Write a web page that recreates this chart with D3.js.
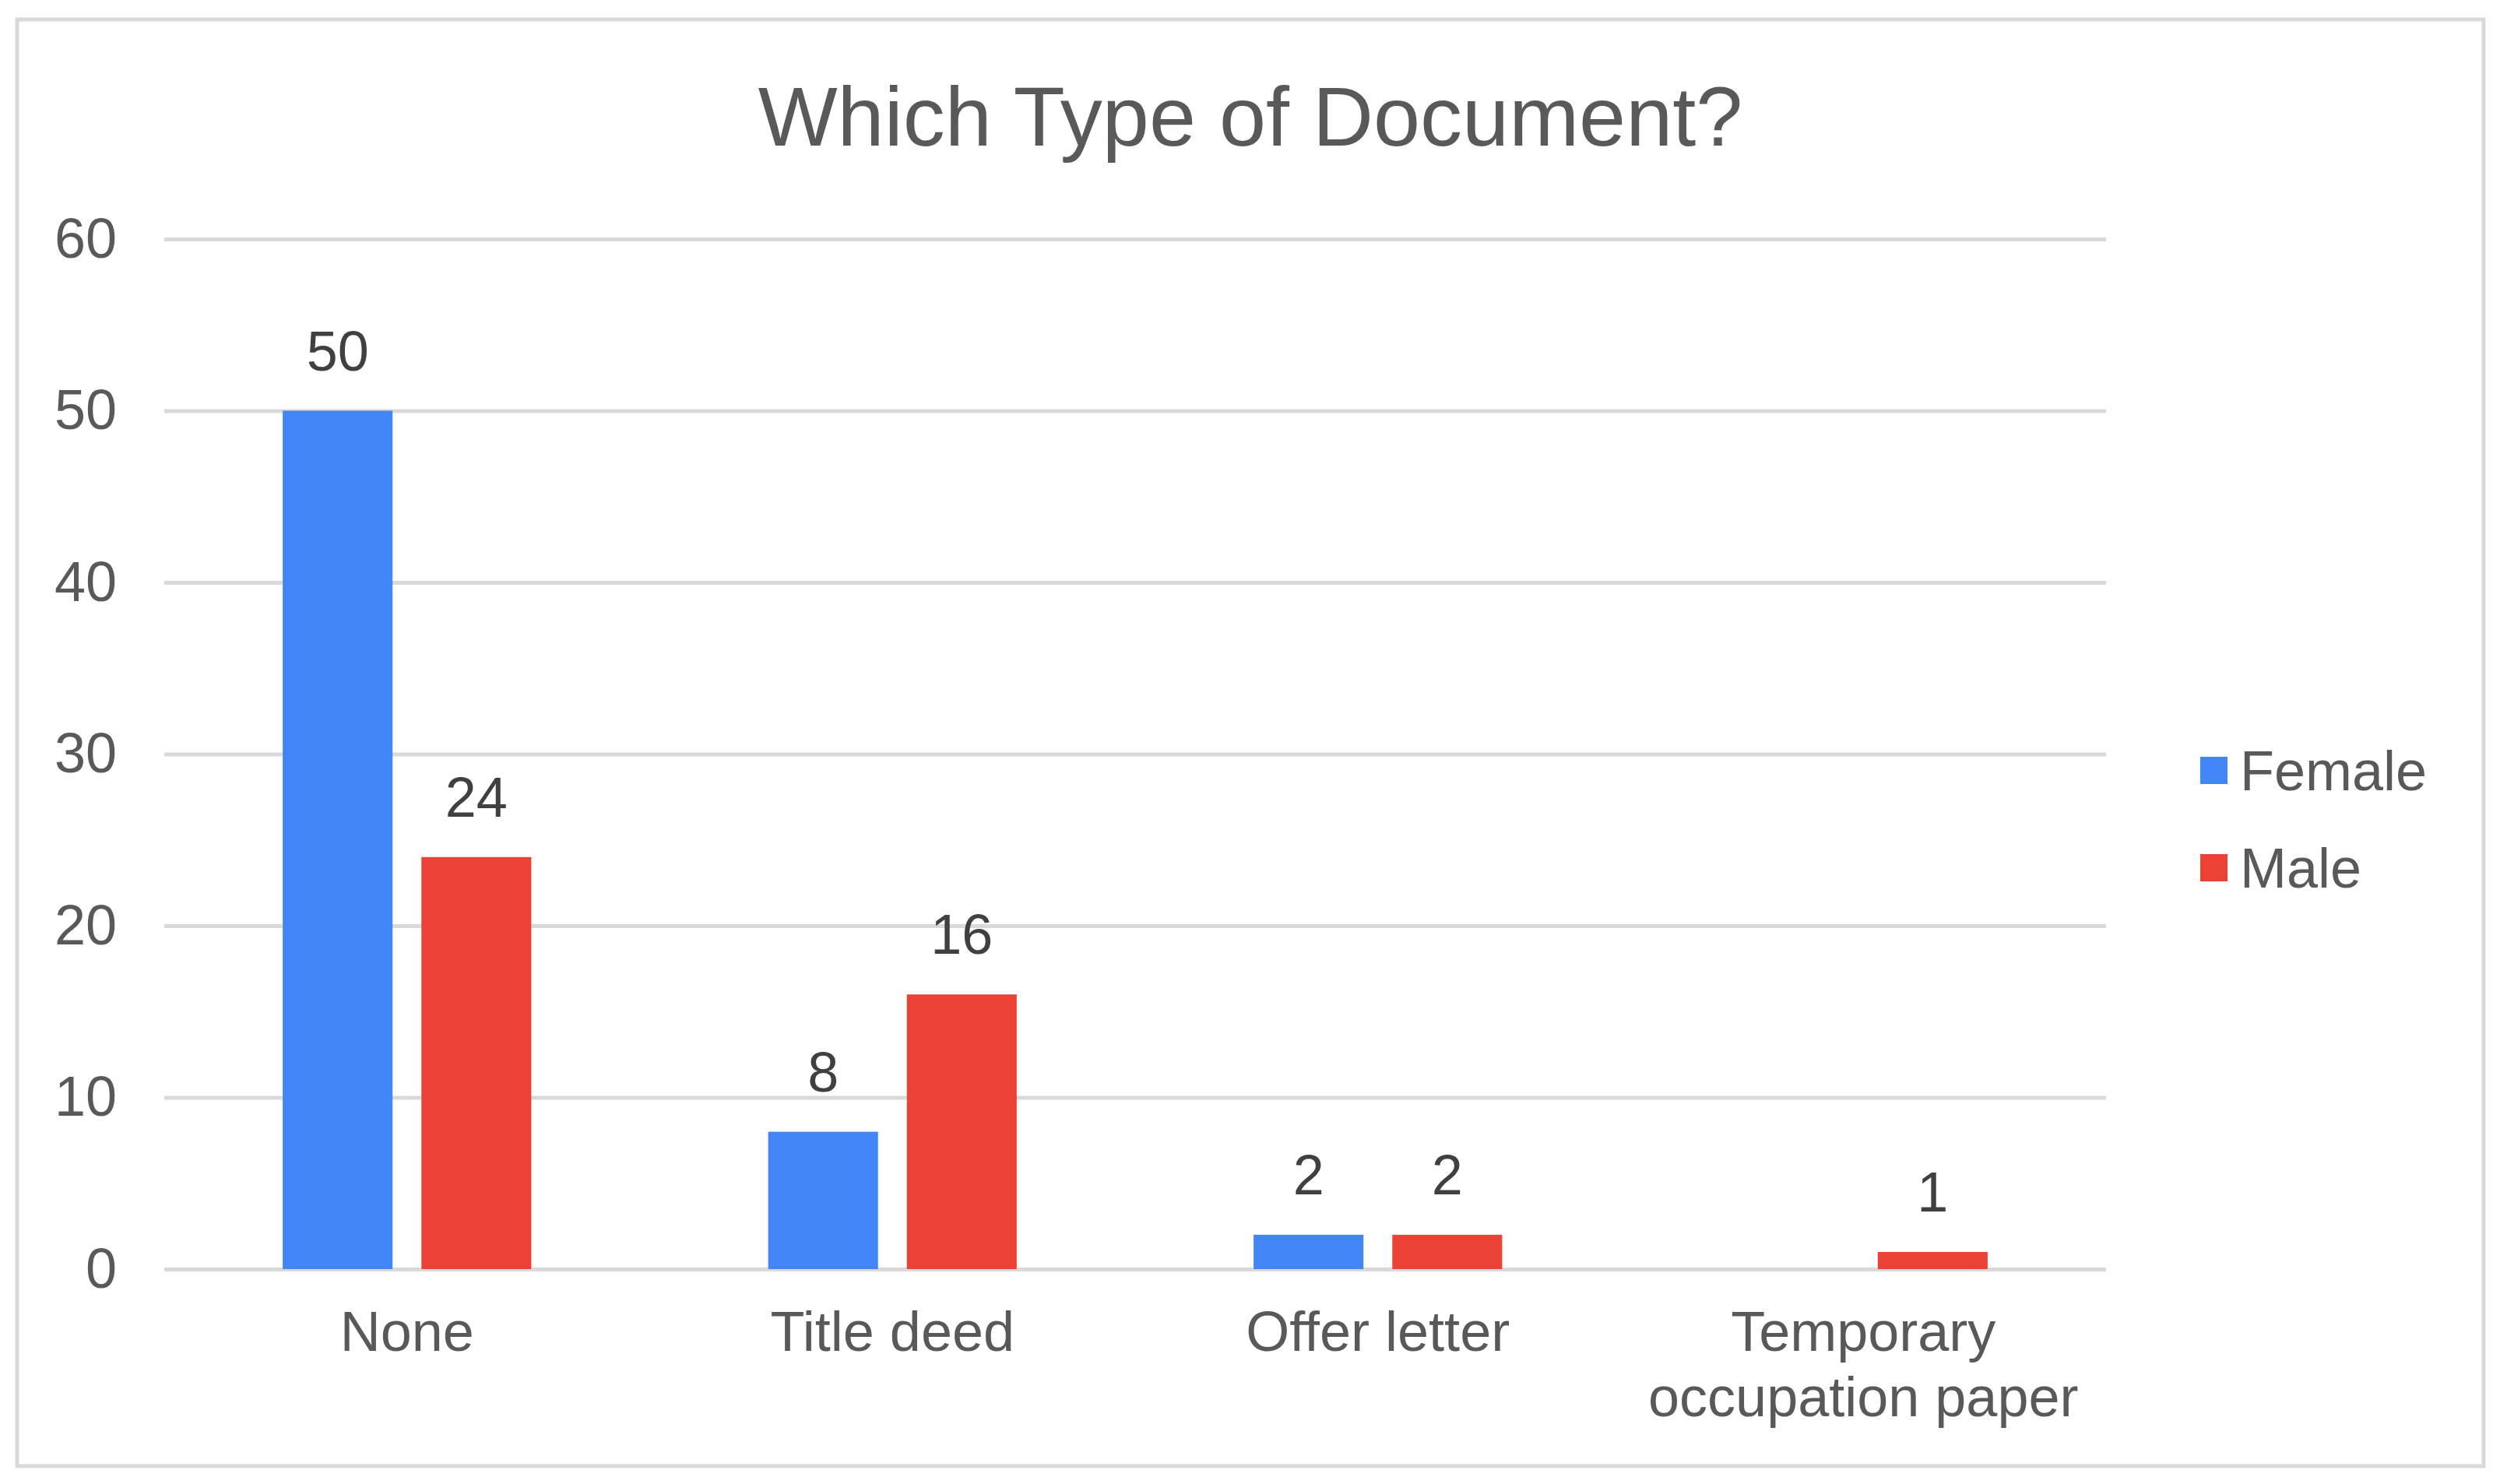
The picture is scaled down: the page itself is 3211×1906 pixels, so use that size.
<!DOCTYPE html>
<html>
<head>
<meta charset="utf-8">
<script src="https://cdn.jsdelivr.net/npm/d3@7"></script>
<style>
  body { margin: 0; background: #fff; }
  text { font-family: "Liberation Sans", Arial, sans-serif; }
</style>
</head>
<body>
<div id="wrapper"></div>
<script>
// chart data
const categories = ["None", "Title deed", "Offer letter", "Temporary occupation paper"]
const seriesNames = ["Female", "Male"]
const femaleValues = [50, 8, 2, null]
const maleValues = [24, 16, 2, 1]
const yTicks = [0, 10, 20, 30, 40, 50, 60]
const chartTitle = "Which Type of Document?"

const colors = { Female: "#4285f4", Male: "#ea4335" }

function drawBars() {
  const dimensions = {
    width: 3211,
    height: 1906,
    margin: { top: 307, right: 506, bottom: 276, left: 211 },
  }
  dimensions.boundedWidth = dimensions.width - dimensions.margin.left - dimensions.margin.right
  dimensions.boundedHeight = dimensions.height - dimensions.margin.top - dimensions.margin.bottom

  const wrapper = d3.select("#wrapper")
    .append("svg")
      .attr("width", dimensions.width)
      .attr("height", dimensions.height)

  // outer frame
  wrapper.append("rect")
      .attr("x", 22)
      .attr("y", 25)
      .attr("width", 3168)
      .attr("height", 1858)
      .attr("fill", "#fff")
      .attr("stroke", "#d9d9d9")
      .attr("stroke-width", 5)

  wrapper.append("text")
      .attr("x", 1606)
      .attr("y", 187)
      .attr("text-anchor", "middle")
      .attr("fill", "#595959")
      .style("font-size", "108px")
      .text(chartTitle)

  const bounds = wrapper.append("g")
      .attr("transform", `translate(${dimensions.margin.left},${dimensions.margin.top})`)

  // long format rows, one per bar
  const rows = categories.map((c, i) => ({
    category: c,
    values: [
      { series: "Female", value: femaleValues[i] },
      { series: "Male", value: maleValues[i] },
    ],
  }))

  const x0 = d3.scaleBand()
      .domain(categories)
      .range([0, dimensions.boundedWidth])
      .padding(0)

  const bw = x0.bandwidth()
  const x1 = d3.scaleBand()
      .domain(seriesNames)
      .range([bw * 0.244, bw * 0.756])
      .paddingInner(0.208)

  const yScale = d3.scaleLinear()
      .domain([0, 60])
      .range([dimensions.boundedHeight, 0])

  // y axis with gridlines
  const yAxisGenerator = d3.axisLeft(yScale)
      .tickValues(yTicks)
      .tickSize(-dimensions.boundedWidth)
      .tickPadding(61)

  const yAxis = bounds.append("g").call(yAxisGenerator)
  yAxis.select(".domain").remove()
  yAxis.selectAll(".tick line")
      .attr("stroke", "#d9d9d9")
      .attr("stroke-width", 5)
  yAxis.selectAll(".tick text")
      .attr("fill", "#595959")
      .style("font-size", "72px")
      .style("font-family", "'Liberation Sans', Arial, sans-serif")

  // bars
  const groups = bounds.selectAll(".group")
      .data(rows)
    .enter().append("g")
      .attr("class", "group")
      .attr("transform", d => `translate(${x0(d.category)},0)`)

  const present = d => d.values.filter(v => v.value != null)

  groups.selectAll("rect")
      .data(present)
    .enter().append("rect")
      .attr("x", d => x1(d.series))
      .attr("y", d => yScale(d.value))
      .attr("width", x1.bandwidth())
      .attr("height", d => yScale(0) - yScale(d.value))
      .attr("fill", d => colors[d.series])

  groups.selectAll(".label")
      .data(present)
    .enter().append("text")
      .attr("class", "label")
      .attr("x", d => x1(d.series) + x1.bandwidth() / 2)
      .attr("y", d => yScale(d.value) - 52)
      .attr("text-anchor", "middle")
      .attr("fill", "#404040")
      .style("font-size", "72px")
      .text(d => d.value)

  // category axis
  const xAxisGenerator = d3.axisBottom(x0).tickSize(0).tickPadding(0)
  const xAxis = bounds.append("g")
      .attr("transform", `translate(0,${dimensions.boundedHeight})`)
      .call(xAxisGenerator)
  xAxis.select(".domain").remove()
  xAxis.selectAll(".tick text")
      .attr("fill", "#595959")
      .style("font-size", "72px")
      .style("font-family", "'Liberation Sans', Arial, sans-serif")
      .call(wrap, bw * 0.97)

  function wrap(texts, maxWidth) {
    texts.each(function() {
      const text = d3.select(this)
      const words = text.text().split(/\s+/)
      text.text(null).attr("dy", null).attr("y", null)
      let line = []
      let lineNo = 0
      let tspan = text.append("tspan").attr("x", 0).attr("y", 105)
      words.forEach(w => {
        line.push(w)
        tspan.text(line.join(" "))
        if (tspan.node().getComputedTextLength() > maxWidth && line.length > 1) {
          line.pop()
          tspan.text(line.join(" "))
          line = [w]
          lineNo++
          tspan = text.append("tspan").attr("x", 0).attr("y", 105 + lineNo * 84).text(w)
        }
      })
    })
  }

  // legend
  const legend = wrapper.append("g")
  const legendItems = legend.selectAll("g")
      .data(seriesNames)
    .enter().append("g")
      .attr("transform", (d, i) => `translate(2826,${989 + i * 125})`)
  legendItems.append("rect")
      .attr("x", 0)
      .attr("y", -17)
      .attr("width", 35)
      .attr("height", 35)
      .attr("fill", d => colors[d])
  legendItems.append("text")
      .attr("x", 51)
      .attr("y", 26)
      .attr("fill", "#595959")
      .style("font-size", "72px")
      .text(d => d)
}
drawBars()
</script>
</body>
</html>
